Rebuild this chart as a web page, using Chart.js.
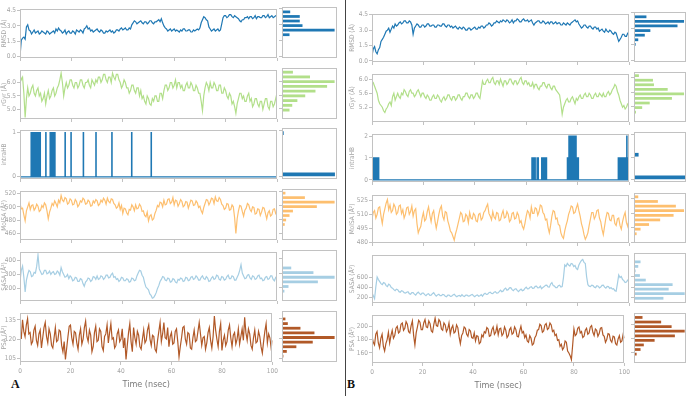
<!DOCTYPE html>
<html>
<head>
<meta charset="utf-8">
<title>Simulation properties</title>
<script src="https://cdn.jsdelivr.net/npm/chart.js@4.4.1/dist/chart.umd.min.js"></script>
<style>
body { margin: 0; background: #fff; }
#fig { position: relative; width: 689px; height: 396px; overflow: hidden; background: #fff; }
#fig canvas { position: absolute; }
.tag { position: absolute; font: bold 12px "Liberation Serif", "DejaVu Serif", serif; color: #111; }
#sep { position: absolute; left: 345px; top: 0; width: 1px; height: 396px; background: #444; }
</style>
</head>
<body>
<div id="fig">
  <div id="sep"></div>
  <div class="tag" style="left:11px;top:377px">A</div>
  <div class="tag" style="left:347px;top:377px">B</div>
</div>
<script>
/* ===========================
   Data
=========================== */

const time = [
  0,0.5,1,1.5,2,2.5,3,3.5,4,4.5,5,5.5,6,6.5,7,7.5,8,8.5,9,9.5,
  10,10.5,11,11.5,12,12.5,13,13.5,14,14.5,15,15.5,16,16.5,17,17.5,18,18.5,19,19.5,
  20,20.5,21,21.5,22,22.5,23,23.5,24,24.5,25,25.5,26,26.5,27,27.5,28,28.5,29,29.5,
  30,30.5,31,31.5,32,32.5,33,33.5,34,34.5,35,35.5,36,36.5,37,37.5,38,38.5,39,39.5,
  40,40.5,41,41.5,42,42.5,43,43.5,44,44.5,45,45.5,46,46.5,47,47.5,48,48.5,49,49.5,
  50,50.5,51,51.5,52,52.5,53,53.5,54,54.5,55,55.5,56,56.5,57,57.5,58,58.5,59,59.5,
  60,60.5,61,61.5,62,62.5,63,63.5,64,64.5,65,65.5,66,66.5,67,67.5,68,68.5,69,69.5,
  70,70.5,71,71.5,72,72.5,73,73.5,74,74.5,75,75.5,76,76.5,77,77.5,78,78.5,79,79.5,
  80,80.5,81,81.5,82,82.5,83,83.5,84,84.5,85,85.5,86,86.5,87,87.5,88,88.5,89,89.5,
  90,90.5,91,91.5,92,92.5,93,93.5,94,94.5,95,95.5,96,96.5,97,97.5,98,98.5,99,99.5,
  100];

const timeTicks = ["0", "20", "40", "60", "80", "100"];

// panel A
const rmsdA = [
  0.0,1.6,1.8,1.9,1.7,2.9,3.1,2.6,2.5,2.2,2.4,2.6,2.3,2.4,2.5,2.2,2.3,2.5,2.4,2.3,
  2.2,2.5,2.4,2.2,2.3,2.4,2.5,2.3,2.7,2.5,2.8,2.6,2.5,2.3,2.4,2.6,2.2,2.4,2.5,2.3,
  2.3,2.5,2.4,2.2,2.6,2.5,2.4,2.6,2.5,2.3,2.7,2.8,3.0,2.7,2.8,2.5,2.6,2.4,2.5,2.6,
  2.7,2.5,2.4,2.6,2.5,2.3,2.3,2.5,2.4,2.5,2.6,2.4,2.5,2.3,2.4,2.6,2.6,2.5,2.7,2.8,
  2.6,2.7,2.8,2.6,2.6,2.8,2.7,3.1,3.3,3.5,3.4,3.2,3.3,3.4,3.5,3.3,3.2,3.4,3.4,3.2,
  3.3,3.5,3.5,3.3,3.2,3.4,3.4,3.5,3.6,3.4,3.7,3.3,3.0,2.8,2.7,2.5,2.6,2.7,2.5,2.6,
  2.7,2.5,2.6,2.5,2.4,2.6,2.5,2.7,2.7,2.5,2.5,2.6,2.6,2.4,2.4,2.6,2.5,2.6,2.7,2.6,
  2.8,3.3,3.6,3.9,3.8,3.6,3.5,2.9,2.7,2.5,2.6,2.7,2.5,2.6,2.7,2.5,2.6,3.2,3.8,4.0,
  4.0,3.8,3.9,4.1,4.1,3.9,3.8,4.0,3.9,3.8,3.7,3.5,3.4,3.6,3.6,3.8,3.8,3.9,3.7,3.9,
  3.9,3.7,3.8,4.0,3.7,3.9,3.9,3.8,3.8,4.0,4.0,3.8,3.9,4.1,3.8,3.9,4.0,3.8,3.9,4.0,
  3.9];
const rgyrA = [
  6.3,6.1,6.2,5.6,4.7,5.4,5.8,5.5,5.6,5.8,5.9,5.6,5.5,5.7,5.8,5.5,5.6,5.3,5.4,5.6,
  5.2,5.5,5.7,5.4,5.5,5.7,5.8,5.5,5.6,5.8,5.9,6.1,6.35,6.0,5.5,5.8,6.0,5.8,5.9,6.1,
  6.1,5.9,5.8,6.0,6.0,5.8,5.9,6.1,6.1,5.9,5.8,6.0,6.0,6.1,5.9,5.8,6.1,6.0,5.9,6.1,
  6.0,6.2,6.2,6.0,6.1,6.3,6.3,6.1,6.0,6.2,6.2,6.0,6.35,6.2,6.1,6.3,6.3,6.1,6.0,5.8,
  5.9,6.1,6.0,5.8,5.8,5.6,5.7,5.9,5.9,5.7,5.6,5.8,5.8,5.5,5.7,5.4,5.5,5.3,5.2,5.5,
  5.4,5.2,5.15,5.4,5.3,5.5,5.5,5.3,5.3,5.6,5.6,5.4,5.7,5.9,5.9,5.7,5.8,6.0,6.0,5.8,
  5.9,6.1,5.8,6.0,6.0,5.8,5.9,5.7,5.7,5.9,6.0,5.8,5.8,6.0,5.9,5.7,5.7,5.9,5.8,5.6,
  5.6,5.3,4.95,5.5,5.8,6.0,5.9,5.7,6.0,5.8,5.8,6.0,5.9,5.7,5.7,5.9,5.9,5.6,5.6,5.8,
  5.7,5.5,5.4,5.6,5.5,5.2,5.3,5.1,4.85,5.2,5.4,5.6,5.6,5.4,5.5,5.3,5.3,5.5,5.6,5.3,
  5.4,5.1,5.2,5.4,5.4,5.2,5.1,5.3,5.3,5.0,5.2,5.4,5.4,5.1,5.0,5.3,5.3,5.1,5.2,5.4,
  5.6];
const hbOnA = [4.3,4.8,5.3,5.8,6.4,6.9,7.5,7.8,10.0,11.7,12.1,12.6,13.0,13.5,
  17.5,19.8,24.6,29.5,35.7,43.4,51.0];
const hbLvlA = [1,1,1,1,1,1,1,1,1,1,1,1,1,1,1,1,1,1,1,1,1];
const molsaA = [
  505,497,498,488,479,494,500,506,496,502,503,495,498,504,501,493,495,502,499,506,
  503,494,482,492,498,505,502,509,505,500,510,506,517,510,508,514,512,504,506,512,
  510,503,504,511,508,500,503,509,507,513,511,504,505,510,508,501,502,509,506,511,
  509,502,504,510,507,513,510,504,513,508,506,512,511,505,503,498,500,506,496,502,
  490,498,497,491,488,496,495,503,500,494,503,497,498,504,501,493,494,487,485,492,
  479,486,488,480,482,490,495,502,500,507,506,500,510,503,504,511,512,505,507,514,
  503,510,509,501,505,511,508,500,502,508,507,498,504,510,509,502,503,509,506,499,
  501,494,490,499,505,511,510,503,507,513,512,505,515,509,508,514,511,504,502,496,
  498,505,504,495,496,503,500,484,460,482,494,502,501,493,486,495,498,505,503,496,
  493,500,499,489,490,497,496,487,492,499,498,490,482,491,494,486,488,496,497,490,
  493];
const sasaA = [
  250,330,360,280,175,260,300,330,320,285,290,315,310,360,440,340,320,300,305,330,
  330,305,310,325,300,315,320,300,305,325,315,295,350,320,300,280,285,300,270,290,
  280,255,260,280,275,250,250,270,265,235,215,245,255,275,270,250,260,285,280,265,
  290,265,270,290,285,265,275,295,295,275,280,300,310,280,285,265,270,250,260,280,
  275,255,255,270,265,245,250,275,270,255,260,290,310,330,325,295,280,240,210,200,
  190,160,150,130,135,150,170,200,220,250,265,285,280,260,255,275,270,245,250,270,
  265,245,240,265,260,275,270,250,255,280,275,255,260,280,285,265,270,290,280,260,
  260,280,290,270,265,285,275,250,255,275,285,265,270,295,290,265,260,285,280,260,
  265,285,295,270,270,290,285,260,260,280,300,330,370,310,290,270,275,295,300,275,
  265,290,285,265,270,290,295,270,275,255,260,280,285,265,270,290,290,265,255,280,
  275];
const psaA = [
  128,120,135,126,122,131,136,124,125,116,118,127,130,119,115,124,127,113,121,129,
  133,122,117,128,124,115,113,121,129,118,119,127,126,115,110,118,104,113,122,130,
  131,121,116,126,125,117,112,123,128,116,120,129,134,122,118,127,123,110,114,125,
  130,118,119,128,126,114,111,122,124,131,117,125,132,120,121,113,115,124,127,118,
  120,128,113,121,104,115,125,132,118,110,129,121,116,126,123,114,112,120,127,117,
  119,127,131,120,115,123,122,112,110,119,126,133,118,124,133,121,120,129,114,122,
  125,116,117,126,128,118,106,114,121,129,130,120,116,125,124,113,112,121,127,118,
  119,126,133,124,115,121,122,112,117,125,129,119,113,122,138,127,120,114,126,132,
  111,119,123,115,118,127,131,121,114,123,125,116,120,128,116,122,128,119,137,125,
  119,128,124,115,112,121,127,117,118,126,122,114,109,118,126,132,117,124,121,113,
  119];

// panel B
const rmsdB = [
  0.5,1.2,1.4,0.9,0.7,1.1,1.3,1.9,2.1,2.3,2.6,2.9,3.0,3.2,2.8,3.1,3.4,3.2,3.6,3.4,
  3.5,3.7,3.8,3.6,3.7,3.9,3.9,3.7,3.7,3.9,3.8,3.5,2.6,3.2,3.4,3.6,3.5,3.3,3.3,3.5,
  3.5,3.3,3.4,3.6,3.6,3.4,3.4,3.5,3.5,3.3,3.3,3.5,3.5,3.4,3.4,3.6,3.6,3.4,3.3,3.5,
  3.5,3.3,3.4,3.2,3.3,3.4,3.2,3.1,3.3,3.2,3.1,3.3,3.2,3.0,3.0,3.2,3.2,3.0,3.1,3.2,
  3.3,3.1,3.1,3.3,3.2,3.4,3.4,3.2,3.3,3.5,3.5,3.7,3.6,3.4,3.5,3.7,3.7,3.9,3.8,3.7,
  3.9,3.8,4.0,3.9,3.8,4.0,3.9,3.7,3.8,4.0,3.7,3.9,3.9,4.1,4.0,3.8,3.8,4.0,4.1,3.9,
  3.9,4.0,3.8,3.9,4.0,3.7,3.5,3.7,3.8,3.9,3.9,3.7,3.7,3.9,3.8,3.6,3.7,3.8,3.6,3.8,
  3.8,3.6,3.7,3.8,3.6,3.7,3.7,3.5,3.5,3.7,3.6,3.5,3.7,3.6,3.5,3.7,3.8,3.9,4.0,3.8,
  3.9,3.6,3.4,3.2,3.3,3.5,3.5,3.3,3.2,3.4,3.4,3.2,3.1,3.3,3.3,3.1,3.2,2.9,3.0,3.1,
  2.9,2.8,3.1,2.9,2.8,3.0,2.9,2.7,2.6,2.8,2.7,2.3,1.9,2.1,2.3,2.6,2.6,2.4,2.4,2.7,
  2.6];
const rgyrB = [
  5.85,5.9,5.8,5.7,5.6,5.4,5.3,5.25,5.2,5.1,5.05,5.15,5.2,5.3,5.35,5.25,5.5,5.6,5.4,5.5,
  5.6,5.5,5.45,5.6,5.55,5.7,5.65,5.55,5.5,5.65,5.7,5.6,5.6,5.5,5.55,5.65,5.7,5.6,5.5,5.6,
  5.6,5.5,5.45,5.55,5.5,5.4,5.4,5.5,5.55,5.45,5.45,5.55,5.5,5.4,5.35,5.45,5.5,5.4,5.45,5.55,
  5.55,5.45,5.4,5.5,5.5,5.4,5.45,5.55,5.55,5.45,5.4,5.5,5.5,5.6,5.6,5.5,5.45,5.55,5.55,5.45,
  5.5,5.6,5.6,5.5,5.45,5.7,5.95,5.85,5.85,5.95,6.0,5.9,5.9,6.0,6.05,5.9,5.85,5.95,5.95,5.85,
  6.0,5.9,5.8,5.95,5.95,5.85,5.9,6.0,6.0,5.9,5.85,5.95,5.95,5.85,5.9,6.0,6.05,5.9,5.85,5.95,
  5.95,5.85,5.9,5.8,5.8,5.9,5.75,5.85,5.85,5.75,5.7,5.8,5.8,5.9,5.9,5.8,5.75,5.85,5.85,5.75,
  5.7,5.8,5.8,5.7,5.65,5.6,5.55,5.3,5.0,5.2,5.3,5.4,5.45,5.35,5.35,5.45,5.5,5.4,5.3,5.45,
  5.4,5.5,5.55,5.45,5.45,5.55,5.6,5.5,5.5,5.6,5.55,5.45,5.45,5.55,5.6,5.5,5.5,5.6,5.55,5.5,
  5.6,5.5,5.5,5.6,5.65,5.55,5.6,5.7,5.75,5.85,5.8,5.65,5.55,5.4,5.3,5.2,5.25,5.15,5.2,5.3,
  5.3];
const hbOnB = [0.3,0.55,0.8,1.05,1.3,1.55,1.8,2.05,2.3,2.5,
  62.2,62.6,63.0,63.4,64.2,64.6,66.0,66.3,66.6,66.9,67.2,67.5,67.8,
  76.0,76.3,76.6,76.9,77.2,77.5,77.8,78.1,78.4,78.7,79.0,79.3,79.6,79.9,80.2,
  95.8,96.1,96.4,96.7,97.0,97.3,97.6,97.9,98.2,98.5,98.8,99.1,99.4,99.7];
const hbLvlB = [1,1,1,1,1,1,1,1,1,1,
  1,1,1,1,1,1,1,1,1,1,1,1,1,
  1,1,2,2,2,2,2,2,2,2,2,2,1,1,1,
  1,1,1,1,1,1,1,1,1,1,1,2,1,1];
const molsaB = [
  505,512,514,506,510,517,518,508,500,510,516,522,526,515,520,512,514,521,518,510,
  512,519,520,511,515,506,510,517,518,510,513,519,508,514,516,500,490,494,497,506,
  512,503,505,513,518,509,502,511,514,503,495,502,510,516,519,508,504,513,512,503,
  498,492,490,486,482,489,494,500,506,512,510,502,503,510,508,501,512,506,505,511,
  509,503,502,510,511,504,506,512,514,518,521,511,508,504,513,507,505,512,511,503,
  504,510,514,506,507,513,510,502,504,511,512,505,506,512,509,501,503,497,494,500,
  508,514,512,506,518,511,511,517,516,509,513,520,519,512,510,504,505,496,490,498,
  508,514,513,505,506,499,498,490,486,484,492,498,503,510,514,519,518,511,512,517,
  521,514,508,500,495,488,483,486,490,498,505,512,512,505,508,514,515,506,502,494,
  488,497,506,512,511,504,503,509,509,500,498,505,506,498,494,502,508,512,501,497,
  505];
const sasaB = [
  300,240,180,420,610,560,520,480,460,500,490,440,420,470,450,400,390,360,340,370,
  360,320,310,340,330,300,290,310,320,280,270,300,300,270,250,290,310,280,260,290,
  290,260,240,270,280,245,250,280,300,260,230,255,270,240,240,265,260,230,220,250,
  250,225,230,255,270,240,220,240,245,225,260,235,225,250,250,230,235,255,265,240,
  220,245,255,230,240,260,230,270,290,265,270,300,310,285,280,310,320,290,295,320,
  350,320,330,370,390,350,360,395,400,360,340,370,380,345,320,350,370,340,350,385,
  410,375,380,410,420,385,390,425,430,395,400,430,380,405,420,445,450,415,410,470,
  500,440,430,400,400,440,450,410,420,600,850,820,880,850,830,880,870,820,840,780,
  760,850,900,940,960,900,880,620,460,430,420,450,440,410,400,440,430,395,410,445,
  450,410,390,425,420,385,400,370,380,340,330,480,650,600,620,560,540,500,510,550,
  560];
const psaB = [
  185,176,172,188,192,175,168,182,188,170,163,174,180,191,175,186,194,182,186,197,
  200,190,192,203,205,194,197,207,203,192,190,201,208,186,172,190,199,209,206,195,
  195,205,210,199,198,208,204,193,191,203,212,201,200,210,207,196,194,205,202,192,
  196,205,188,197,201,190,192,202,198,184,174,186,190,199,197,188,185,195,193,183,
  182,190,178,186,185,174,176,187,184,192,190,198,196,185,186,195,199,188,191,200,
  187,196,197,186,189,199,194,183,186,195,198,188,190,199,195,185,184,193,200,190,
  192,183,187,178,176,186,182,172,174,183,186,194,195,203,201,191,193,202,204,195,
  197,205,202,192,194,186,188,179,180,170,173,165,168,178,176,163,160,156,150,172,
  196,186,188,197,199,190,192,183,185,194,197,188,190,199,201,191,186,196,194,185,
  189,197,198,187,185,176,180,189,188,179,176,185,184,174,172,181,186,176,178,188,
  182];

// y tick labels
const rmsdTicks = ["0.0", "1.5", "3.0", "4.5"];
const rgyrTicksA = ["5.0", "5.5", "6.0"];
const rgyrTicksB = ["5.2", "5.6", "6.0"];
const hbTicksA = ["0", "1"];
const hbTicksB = ["0", "1", "2"];
const molsaTicksA = ["460", "480", "500", "520"];
const molsaTicksB = ["480", "495", "510", "525"];
const sasaTicksA = ["200", "300", "400"];
const sasaTicksB = ["200", "400", "600"];
const psaTicksA = ["105", "120", "135"];
const psaTicksB = ["160", "180", "200"];

// histograms (bin centres, bar lengths)
const rmsdA_bins = [1.62, 2.05, 2.48, 2.91, 3.34, 3.77, 4.20];
const rmsdA_counts = [3, 22, 154, 60, 52, 52, 24];
const rgyrA_bins = [4.79, 4.96, 5.13, 5.30, 5.47, 5.64, 5.81, 5.98, 6.15, 6.32];
const rgyrA_counts = [3, 22, 30, 45, 68, 98, 132, 154, 82, 32];
const hbA_bins = [0.05, 0.95];
const hbA_counts = [154, 4];
const molsaA_bins = [466, 472.5, 479, 485.5, 492, 498.5, 505, 511.5, 518];
const molsaA_counts = [3, 8, 12, 22, 32, 102, 154, 67, 10];
const sasaA_bins = [146, 178, 210, 242, 274, 306, 338, 370];
const sasaA_counts = [3, 7, 19, 105, 154, 92, 27, 3];
const psaA_bins = [106.5, 110, 113.5, 117, 120.5, 124, 127.5, 131, 134.5, 138];
const psaA_counts = [4, 14, 42, 90, 154, 95, 54, 17, 10, 3];

const rmsdB_bins = [0.69, 1.12, 1.55, 1.98, 2.41, 2.84, 3.27, 3.70, 4.13];
const rmsdB_counts = [1, 2, 5, 13, 33, 50, 133, 153, 38];
const rgyrB_bins = [4.925, 5.05, 5.175, 5.3, 5.425, 5.55, 5.675, 5.8, 5.925, 6.05];
const rgyrB_counts = [2, 6, 25, 48, 116, 153, 103, 61, 58, 15];
const hbB_bins = [0.1, 1.1, 1.9];
const hbB_counts = [155, 13, 1];
const molsaB_bins = [483.8, 488.6, 493.4, 498.2, 503, 507.8, 512.6, 517.4, 522.2, 527];
const molsaB_counts = [3, 8, 20, 46, 80, 121, 153, 128, 73, 13];
const sasaB_bins = [185, 272, 359, 446, 533, 620, 707, 794, 881];
const sasaB_counts = [90, 155, 106, 118, 36, 18, 5, 13, 20];
const psaB_bins = [157.8, 164.4, 171, 177.6, 184.2, 190.8, 197.4, 204, 210.6];
const psaB_counts = [8, 20, 30, 63, 125, 155, 115, 83, 26];

/* ===========================
   Style / layout
=========================== */

const FONT = '"DejaVu Sans Condensed", "DejaVu Sans", sans-serif';
const SPINE = "#c2c2c2";
const TICK_TXT = "#a3a3a3";
const PULSE_W = 0.15;

const COL = {
    blue: "#1f78b4",
    green: "#b2df8a",
    orange: "#fdbf6f",
    lightblue: "#a6cee3",
    brown: "#b15928"
};

const panelA = { tsL: 20, tsR: 277, hL: 282, hR: 337, tops: [7, 68, 128, 189, 250, 311], h: 51, axisW: 20, histMax: 161 };
const panelB = { tsL: 372, tsR: 629, hL: 634, hR: 686, tops: [12, 72, 132, 193, 253, 313], h: 50, axisW: 24, histMax: 159 };

const framePlugin = {
    id: "frame",
    afterDraw(chart) {
        const a = chart.chartArea;
        const ctx = chart.ctx;
        ctx.save();
        ctx.strokeStyle = SPINE;
        ctx.lineWidth = 1;
        ctx.strokeRect(Math.round(a.left) + 0.5, Math.round(a.top) + 0.5,
            Math.round(a.right - a.left) - 1, Math.round(a.bottom - a.top) - 1);
        ctx.restore();
    }
};

function place(x, y, w, h) {
    const c = document.createElement("canvas");
    c.width = w;
    c.height = h;
    c.style.left = x + "px";
    c.style.top = y + "px";
    c.style.width = w + "px";
    c.style.height = h + "px";
    document.getElementById("fig").appendChild(c);
    return c;
}

function tickAxis(labels, range, showLabels, title, axisW) {
    return {
        type: "linear",
        min: range[0],
        max: range[1],
        offset: false,
        afterBuildTicks: s => { s.ticks = labels.map(l => ({ value: +l })); },
        afterFit: s => { s.width = axisW; },
        ticks: {
            display: showLabels,
            autoSkip: false,
            padding: 1,
            color: TICK_TXT,
            font: { family: FONT, size: 6.5 },
            callback: v => labels.find(l => +l === v) ?? ""
        },
        grid: { drawOnChartArea: false, offset: false, tickLength: 3, color: SPINE },
        border: { display: false },
        title: {
            display: !!title,
            text: title,
            color: TICK_TXT,
            padding: 0,
            font: { family: FONT, size: 6.5 }
        }
    };
}

function pulses(on, lvl) {
    const pts = [{ x: 0, y: 0 }];
    on.forEach((t, i) => {
        pts.push({ x: t, y: lvl[i] });
        pts.push({ x: t + PULSE_W, y: 0 });
    });
    pts.push({ x: 100, y: 0 });
    return pts;
}

function timeSeries(P, row, r, last) {
    const padT = 3, padR = 3, padB = last ? 28 : 5;
    const w = P.tsR - P.tsL, h = P.h, top = P.tops[row];
    const c = place(P.tsL - P.axisW, top - padT, w + P.axisW + padR, h + padT + padB);

    const pts = r.points || time.map((t, i) => ({ x: t, y: r.ys[i] }));

    new Chart(c, {
        type: "line",
        data: {
            datasets: [{
                data: pts,
                borderColor: r.color,
                borderWidth: 1.2,
                pointRadius: 0,
                stepped: !!r.points,
                tension: 0
            }]
        },
        options: {
            responsive: false,
            animation: false,
            events: [],
            layout: { padding: { top: padT, right: padR, left: 0, bottom: 0 } },
            plugins: { legend: { display: false }, tooltip: { enabled: false } },
            scales: {
                x: {
                    type: "linear",
                    min: 0,
                    max: 100,
                    afterBuildTicks: s => { s.ticks = timeTicks.map(l => ({ value: +l })); },
                    afterFit: s => { s.height = padB; },
                    ticks: {
                        display: last,
                        padding: 2,
                        maxRotation: 0,
                        color: TICK_TXT,
                        font: { family: FONT, size: 6.5 },
                        callback: v => String(v)
                    },
                    grid: { drawOnChartArea: false, tickLength: 3, color: SPINE },
                    border: { display: false },
                    title: {
                        display: last,
                        text: "Time (nsec)",
                        color: "#7a7a7a",
                        padding: { top: 1, bottom: 0 },
                        font: { family: FONT, size: 9 }
                    }
                },
                y: tickAxis(r.ticks, r.range, true, r.label, P.axisW)
            }
        },
        plugins: [framePlugin]
    });
}

function histogram(P, row, r) {
    const padT = 3, padR = 2, padL = 4, padB = 5;
    const w = P.hR - P.hL, h = P.h, top = P.tops[row];
    const c = place(P.hL - padL, top - padT, w + padL + padR, h + padT + padB);

    const ds = {
        data: r.bins.map((b, i) => ({ x: r.counts[i], y: b })),
        backgroundColor: r.color,
        borderWidth: 0,
        categoryPercentage: 1,
        barPercentage: 0.6
    };
    if (r.points) ds.barThickness = 3;

    new Chart(c, {
        type: "bar",
        data: { datasets: [ds] },
        options: {
            indexAxis: "y",
            responsive: false,
            animation: false,
            events: [],
            layout: { padding: { top: padT, right: padR, left: 0, bottom: padB } },
            plugins: { legend: { display: false }, tooltip: { enabled: false } },
            scales: {
                x: { type: "linear", min: 0, max: P.histMax, display: false },
                y: tickAxis(r.ticks, r.range, false, "", padL)
            }
        },
        plugins: [framePlugin]
    });
}

const rowsA = [
    { label: "RMSD (Å)", ys: rmsdA, ticks: rmsdTicks, range: [-0.14, 4.66], color: COL.blue, bins: rmsdA_bins, counts: rmsdA_counts },
    { label: "rGyr (Å)", ys: rgyrA, ticks: rgyrTicksA, range: [4.64, 6.47], color: COL.green, bins: rgyrA_bins, counts: rgyrA_counts },
    { label: "intraHB", points: pulses(hbOnA, hbLvlA), ticks: hbTicksA, range: [-0.05, 1.06], color: COL.blue, bins: hbA_bins, counts: hbA_counts },
    { label: "MolSA (Å²)", ys: molsaA, ticks: molsaTicksA, range: [450, 524], color: COL.orange, bins: molsaA_bins, counts: molsaA_counts },
    { label: "SASA (Å²)", ys: sasaA, ticks: sasaTicksA, range: [110, 462], color: COL.lightblue, bins: sasaA_bins, counts: sasaA_counts },
    { label: "PSA (Å²)", ys: psaA, ticks: psaTicksA, range: [102, 140.5], color: COL.brown, bins: psaA_bins, counts: psaA_counts }
];

const rowsB = [
    { label: "RMSD (Å)", ys: rmsdB, ticks: rmsdTicks, range: [-0.1, 4.58], color: COL.blue, bins: rmsdB_bins, counts: rmsdB_counts },
    { label: "rGyr (Å)", ys: rgyrB, ticks: rgyrTicksB, range: [4.78, 6.15], color: COL.green, bins: rgyrB_bins, counts: rgyrB_counts },
    { label: "intraHB", points: pulses(hbOnB, hbLvlB), ticks: hbTicksB, range: [-0.1, 2.1], color: COL.blue, bins: hbB_bins, counts: hbB_counts },
    { label: "MolSA (Å²)", ys: molsaB, ticks: molsaTicksB, range: [479, 531], color: COL.orange, bins: molsaB_bins, counts: molsaB_counts },
    { label: "SASA (Å²)", ys: sasaB, ticks: sasaTicksB, range: [95, 1050], color: COL.lightblue, bins: sasaB_bins, counts: sasaB_counts },
    { label: "PSA (Å²)", ys: psaB, ticks: psaTicksB, range: [145, 217], color: COL.brown, bins: psaB_bins, counts: psaB_counts }
];

/* ===========================
   Draw
=========================== */

[[panelA, rowsA], [panelB, rowsB]].forEach(([P, rows]) => {
    rows.forEach((r, i) => {
        const last = i === rows.length - 1;
        timeSeries(P, i, r, last);
        histogram(P, i, r);
    });
});
</script>
</body>
</html>
